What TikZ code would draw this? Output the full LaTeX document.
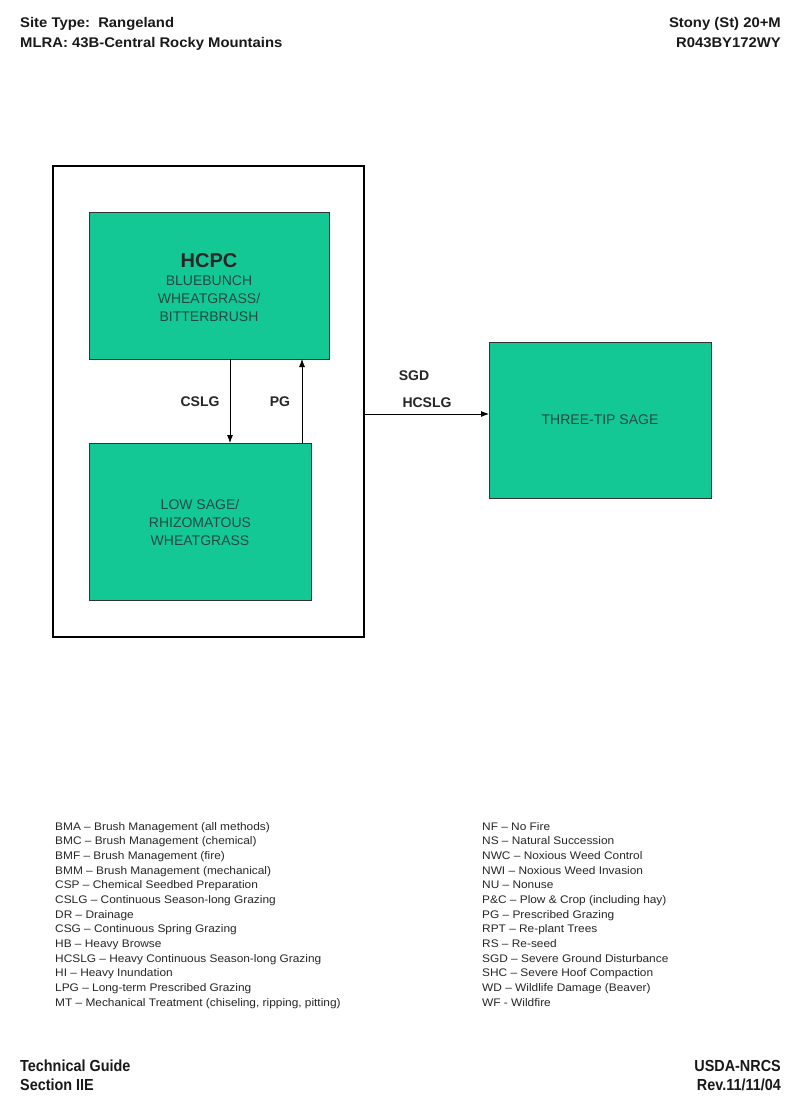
\documentclass[tikz,border=0pt]{standalone}
\usepackage{fontspec}
\setmainfont{Liberation Sans}
\newfontfamily\narrowfont[FakeStretch=0.9,Ligatures=TeX]{Liberation Sans}
\newfontfamily\widefont[FakeStretch=1.06,Ligatures=TeX]{Liberation Sans}
\newfontfamily\legfont[FakeStretch=1.08,Ligatures=TeX]{Liberation Sans}
\usetikzlibrary{arrows.meta}
\definecolor{boxgreen}{RGB}{20,200,150}
\definecolor{boxtext}{RGB}{35,75,65}
\tikzset{
  x=1pt,y=-1pt,
  statebox/.style={draw=black!80,line width=0.8pt,fill=boxgreen,inner sep=0pt,outer sep=0pt},
  boxlabel/.style={align=center,text=boxtext,font=\fontsize{14}{18}\selectfont},
  hdr/.style={font=\fontsize{14}{16}\selectfont\widefont\bfseries,inner sep=0pt,text=black!90},
  foot/.style={font=\fontsize{16}{18}\selectfont\narrowfont\bfseries,inner sep=0pt,text=black!90},
  arr/.style={line width=0.8pt,-{Latex[length=8pt,width=6pt]}},
  trlabel/.style={font=\fontsize{14}{16}\selectfont\bfseries,text=black!85,inner sep=0pt},
  legend/.style={font=\fontsize{11}{14.67}\selectfont\legfont,align=left,anchor=north west,inner sep=0pt,text=black!85}
}
\begin{document}
\begin{tikzpicture}
\useasboundingbox[fill=white] (0,0) rectangle (800,1108);
% header
\node[hdr,anchor=base west] (h1) at (20,28) {Site Type:\ \ Rangeland};
\node[hdr,anchor=base west] (h2) at (20,48) {MLRA: 43B-Central Rocky Mountains};
\node[hdr,anchor=base east] (h3) at (781,28) {Stony (St) 20+M};
\node[hdr,anchor=base east] (h4) at (781,48) {R043BY172WY};
% outer box
\node[draw=black,line width=2.5pt,minimum width=311pt,minimum height=471pt,inner sep=0pt,outer sep=0pt] (outer) at (208.5,401.5) {};
% states
\node[statebox,minimum width=240pt,minimum height=147pt] (hcpc) at (209,285.5) {};
\node[boxlabel] (hcpct) at (209,288) {{\fontsize{20}{22}\selectfont\bfseries\color{black!85}HCPC}\\BLUEBUNCH\\WHEATGRASS/\\BITTERBRUSH};
\node[statebox,minimum width=222pt,minimum height=157pt] (low) at (200,521.5) {};
\node[boxlabel] (lowt) at (200,522) {LOW SAGE/\\RHIZOMATOUS\\WHEATGRASS};
\node[statebox,minimum width=222pt,minimum height=156pt] (three) at (600,420) {};
\node[boxlabel] (threet) at (600,420) {THREE-TIP SAGE};
% transitions
\draw[arr] (hcpc.south -| 230,0) -- (low.north -| 230,0);
\draw[arr] (low.north -| 302,0) -- (hcpc.south -| 302,0);
\draw[arr] (outer.east |- 0,414) -- (three.west |- 0,414);
\node[trlabel] (l1) at (200,402) {CSLG};
\node[trlabel] (l2) at (280,402) {PG};
\node[trlabel] (l3) at (414,376) {SGD};
\node[trlabel] (l4) at (427,403) {HCSLG};
% legend
\node[legend] (legl) at (55,822) {BMA – Brush Management (all methods)\\
BMC – Brush Management (chemical)\\
BMF – Brush Management (fire)\\
BMM – Brush Management (mechanical)\\
CSP – Chemical Seedbed Preparation\\
CSLG – Continuous Season-long Grazing\\
DR – Drainage\\
CSG – Continuous Spring Grazing\\
HB – Heavy Browse\\
HCSLG – Heavy Continuous Season-long Grazing\\
HI – Heavy Inundation\\
LPG – Long-term Prescribed Grazing\\
MT – Mechanical Treatment (chiseling, ripping, pitting)};
\node[legend] (legr) at (482,822) {NF – No Fire\\
NS – Natural Succession\\
NWC – Noxious Weed Control\\
NWI – Noxious Weed Invasion\\
NU – Nonuse\\
P\&C – Plow \& Crop (including hay)\\
PG – Prescribed Grazing\\
RPT – Re-plant Trees\\
RS – Re-seed\\
SGD – Severe Ground Disturbance\\
SHC – Severe Hoof Compaction\\
WD – Wildlife Damage (Beaver)\\
WF - Wildfire};
% footer
\node[foot,anchor=base west] (f1) at (20,1071) {Technical Guide};
\node[foot,anchor=base west] (f2) at (20,1090) {Section IIE};
\node[foot,anchor=base east] (f3) at (781,1071) {USDA-NRCS};
\node[foot,anchor=base east] (f4) at (781,1090) {Rev.11/11/04};
\end{tikzpicture}
\end{document}
